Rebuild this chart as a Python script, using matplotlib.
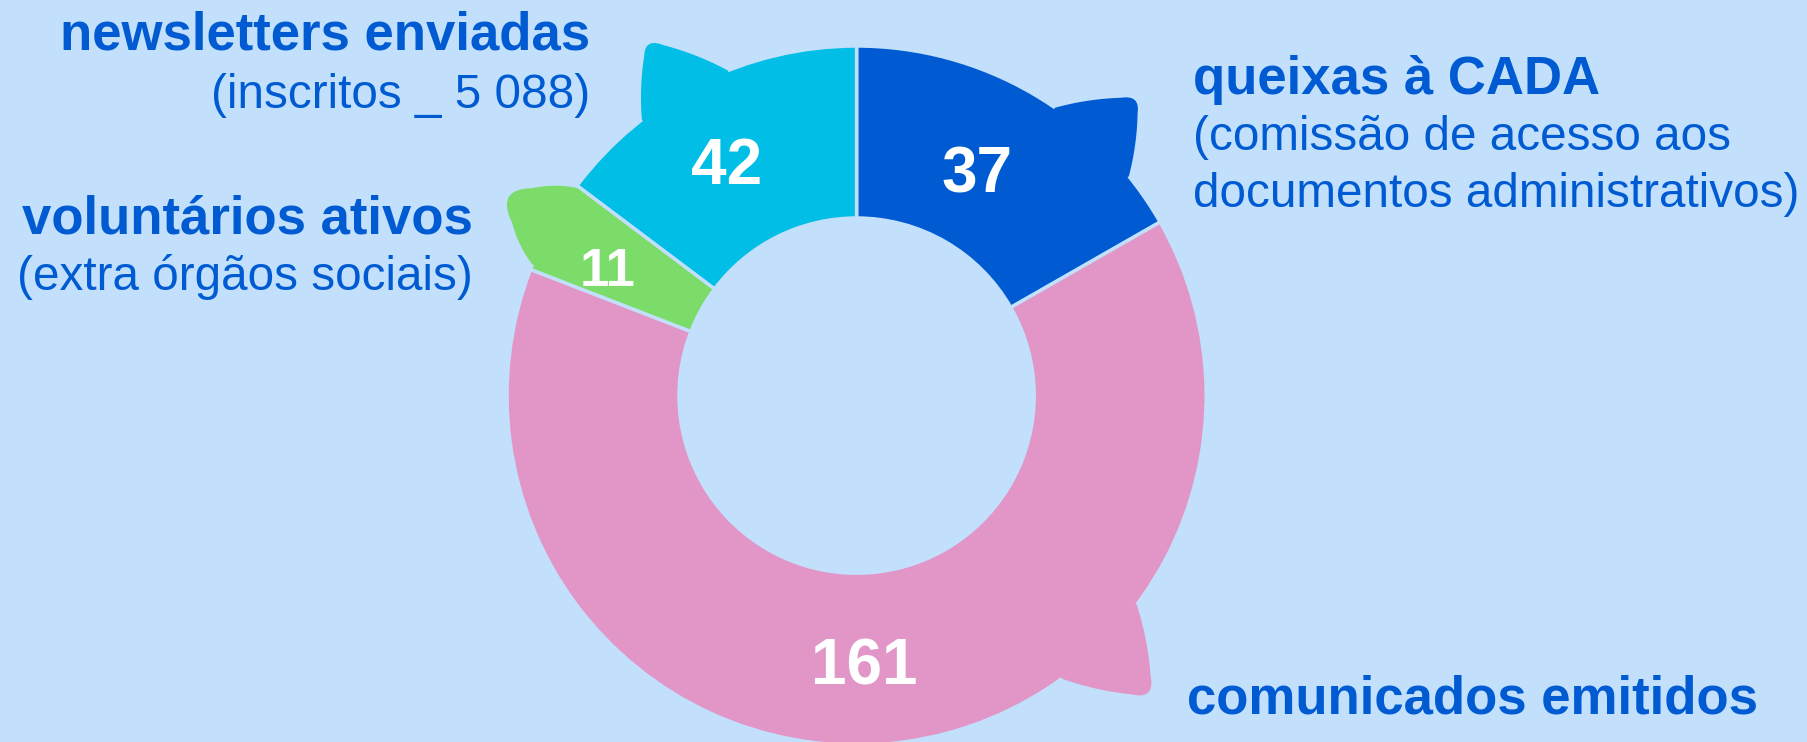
import numpy as np
import matplotlib.pyplot as plt
from matplotlib.patches import Polygon

# wedge sizes as drawn, clockwise from 12 o'clock, and the numbers printed on them
sizes = [42, 161, 11, 37]
value_labels = ['37', '161', '11', '42']
titles = ['queixas à CADA', 'comunicados emitidos', 'voluntários ativos', 'newsletters enviadas']
subtitles = [['(comissão de acesso aos', 'documentos administrativos)'],
             [],
             ['(extra órgãos sociais)'],
             ['(inscritos _ 5 088)']]

colors = ['#005BD3', '#E196C7', '#7BDC69', '#00BEE6']
bg = '#C2E0FB'
text_blue = '#005BD3'

W, H = 1808, 742
cx, cy, R = 856.6, 395.6, 349.6   # donut centre / radius in pixels

plt.rcParams['font.family'] = ['Liberation Sans', 'DejaVu Sans']

fig = plt.figure(figsize=(W / 100, H / 100), dpi=100, facecolor=bg)
ax = fig.add_axes([0, 0, 1, 1])

wedges, _ = ax.pie(sizes, colors=colors, startangle=90, counterclock=False, radius=1,
                   wedgeprops=dict(width=0.492, edgecolor=bg, linewidth=2.5))


def pol(a, r):
    return np.array([r * np.cos(a), r * np.sin(a)])


def quad(p0, c, p1, n=40):
    s = np.linspace(0, 1, n)[:, None]
    return (1 - s) ** 2 * p0 + 2 * (1 - s) * s * c + s ** 2 * p1


def side(p0, p1, base, bulge):
    m = (p0 + p1) / 2
    d = p1 - p0
    nrm = np.array([-d[1], d[0]]) / np.hypot(*d)
    if np.dot(nrm, m - base) < 0:
        nrm = -nrm
    return quad(p0, m + nrm * bulge * np.hypot(*d), p1)


# speech-bubble tails: start, end, tip (fractions of wedge span), tip height, corner rounding, bulge
tails = [(0.426, 0.151, 0.281, 0.182, 0.22, 0.06),
         (0.712, 0.637, 0.674, 0.219, 0.25, 0.06),
         (0.027, 0.946, 0.452, 0.19, 0.45, 0.10),
         (0.407, 0.714, 0.577, 0.189, 0.22, 0.06)]
for w, col, (f0, f1, fp, h, k, b) in zip(wedges, colors, tails):
    span = w.theta2 - w.theta1
    a0, a1, ap = [np.radians(w.theta1 + f * span) for f in (f0, f1, fp)]
    n0, n1, tip = pol(a0, 1.0), pol(a1, 1.0), pol(ap, 1 + h)
    base = pol((a0 + a1) / 2, 0.85)
    p = tip + (n0 - tip) * k
    q = tip + (n1 - tip) * k
    ang = np.linspace(a1, a0, 60)
    pts = np.vstack([side(n0, p, base, b), quad(p, tip, q), side(q, n1, base, b),
                     np.column_stack([0.96 * np.cos(ang), 0.96 * np.sin(ang)])])
    ax.add_patch(Polygon(pts, closed=True, facecolor=col, edgecolor='none', zorder=3))

# numbers inside the ring
label_sizes = [46, 46, 38, 46]
label_radius = [0.755, 0.755, 0.775, 0.76]
for w, lab, fs, rr in zip(wedges, value_labels, label_sizes, label_radius):
    mid = np.radians((w.theta1 + w.theta2) / 2)
    ax.annotate(lab, (rr * np.cos(mid), rr * np.sin(mid)), xytext=(-8.5, -0.358 * fs - 2),
                textcoords='offset points', color='white', fontsize=fs, fontweight='bold',
                ha='center', va='baseline', zorder=5)

ax.set_xlim(-cx / R, (W - cx) / R)
ax.set_ylim(-(H - cy) / R, cy / R)
ax.axis('off')

# category text: anchor x, first baseline y (pixels), alignment, line step
text_pos = [(1193, 94, 'left', 56.5),
            (1187, 713, 'left', 57),
            (473, 233, 'right', 57),
            (590, 50, 'right', 58)]
for title, subs, (x, y, ha, step) in zip(titles, subtitles, text_pos):
    fig.text(x / W, 1 - y / H, title, color=text_blue, fontsize=38, fontweight='bold',
             ha=ha, va='baseline')
    for i, s in enumerate(subs):
        fig.text(x / W, 1 - (y + step * (i + 1)) / H, s, color=text_blue, fontsize=34.3,
                 ha=ha, va='baseline')

fig.savefig('out.png', dpi=100, facecolor=bg)
